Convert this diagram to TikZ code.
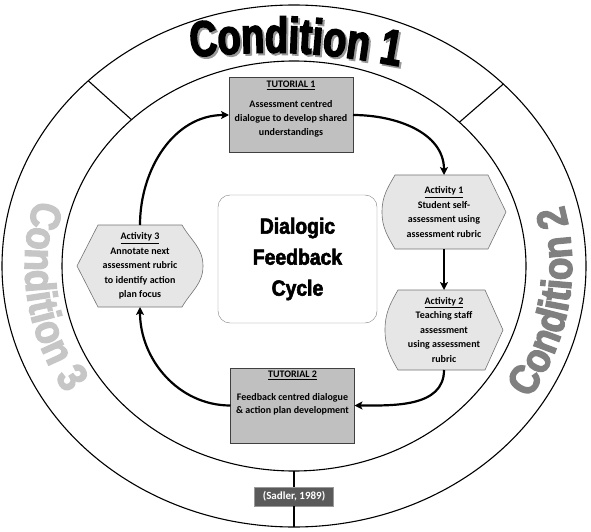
\documentclass[tikz,border=0pt]{standalone}
\usepackage{fontspec}
\setmainfont{Carlito}
\newfontfamily\condAfont{Liberation Sans}[FakeStretch=0.76, BoldFeatures={FakeBold=3}]
\newfontfamily\condBfont{Liberation Sans}[FakeStretch=0.88, BoldFeatures={FakeBold=3}]
\newfontfamily\dialfont{Liberation Sans}[FakeStretch=0.88, BoldFeatures={FakeBold=2.5}]
\usepackage{tikz}
\usetikzlibrary{shapes,arrows.meta}
\usetikzlibrary{positioning}
\usetikzlibrary{calc}
\usetikzlibrary{backgrounds,decorations.text}
\definecolor{tutgrey}{HTML}{C0C0C0}
\definecolor{actgrey}{HTML}{E6E6E6}
\definecolor{sadgrey}{HTML}{5A5A5A}
\definecolor{condtwo}{HTML}{808080}
\definecolor{condthree}{HTML}{C6C6C6}

\begin{document}
\begin{tikzpicture}[x=1pt,y=1pt]
 \useasboundingbox (0,0) rectangle (591,531);
 \tikzstyle{ring} = [ellipse, draw, line width=1.1pt, inner sep=0pt, outer sep=0pt];
 \tikzstyle{txt} = [font=\bfseries\fontsize{10}{14}\selectfont, align=center, inner sep=0pt, outer sep=0pt];
 \tikzstyle{tut} = [txt, draw=black!75, fill=tutgrey, minimum width=124pt, minimum height=75pt];
 \tikzstyle{act} = [txt, font=\bfseries\fontsize{10}{14.5}\selectfont];
 \tikzstyle{actline} = [draw=black!55, fill=actgrey, line width=0.6pt];

 \coordinate (origin) at (294,265);
 \node (outer) [ring, minimum width=584pt, minimum height=522pt] at (origin) {};
 \node (mid) [ring, minimum width=464pt, minimum height=410pt] at (origin) {};

 \node (dialogic) [draw=black!50, rounded corners=12pt, minimum width=159pt, minimum height=128pt, align=center, font=\dialfont\bfseries\fontsize{22}{31}\selectfont] at (297.5,272) {Dialogic\\Feedback\\Cycle};
 \node (tut1) [tut] at (291,416) {\underline{TUTORIAL 1}\\[6pt]Assessment centred\\dialogue to develop shared\\understandings\\[-1pt]\mbox{}};
 \node (tut2) [tut] at (292.5,125.5) {\underline{TUTORIAL 2}\\[9pt]Feedback centred dialogue\\[-1pt]\& action plan development\\[12pt]\mbox{}};
 \node (a1) [act, minimum width=124pt, minimum height=74pt] at (444,319) {\underline{Activity 1}\\Student self-\\assessment using\\assessment rubric};
 \node (a2) [act, minimum width=118pt, minimum height=80pt, below=41pt of a1] {\underline{Activity 2}\\Teaching staff\\assessment\\using assessment\\rubric};
 \node (a3) [act, minimum width=126pt, minimum height=82pt] at (140,265) {\underline{Activity 3}\\Annotate next\\assessment rubric\\to identify action\\plan focus};
 \node (sadler) [fill=sadgrey, draw=black!40, text=white, font=\bfseries\fontsize{11}{12}\selectfont, minimum width=79pt, minimum height=19pt, inner sep=0pt] at (294,34.5) {(Sadler, 1989)};

 \begin{scope}[on background layer]
  \foreach \n/\l/\r in {a1/13/18, a2/13/18}
   \draw[actline] (\n.west) to[out=90,in=240] ($(\n.north west)+(\l,0)$) -- ($(\n.north east)+(-\r,0)$) -- (\n.east) -- ($(\n.south east)+(-\r,0)$) -- ($(\n.south west)+(\l,0)$) to[out=120,in=-90] (\n.west) -- cycle;
  \draw[actline] (a3.west) -- ($(a3.north west)+(21,0)$) -- ($(a3.north east)+(-21,0)$) to[out=-60,in=90] (a3.east) to[out=-90,in=60] ($(a3.south east)+(-21,0)$) -- ($(a3.south west)+(21,0)$) -- cycle;
 \end{scope}

 \draw [line width=1.1pt] (outer.138.5) -- (mid.138.5) (outer.41.5) -- (mid.41.5);
 \draw [line width=1.1pt] (mid.south) -- (sadler) -- (outer.south);

 \tikzstyle{A} = [line width=2.2pt, -{Stealth[length=8pt,width=8pt,inset=2pt]}]

 \draw [A] (tut1.east) to[out=0,in=90] (a1.north);
 \draw [A] (a1) -- (a2);
 \draw [A] (a2.south) to[out=-90,in=0] (tut2.east);
 \draw [A] (tut2.west) to[out=180,in=-90] (a3.south);
 \draw [A] (a3.north) to[out=90,in=180] (tut1.west);

 \path [decorate, decoration={text along path, text align=center, text={|\condAfont\bfseries\fontsize{50}{50}\selectfont\color{black!40}|Condition 1}}] (194,472) to[bend left=8] (400,463);
 \path [decorate, decoration={text along path, text align=center, text={|\condAfont\bfseries\fontsize{50}{50}\selectfont\color{black}|Condition 1}}] (192,474) to[bend left=8] (398,465);
 \path [decorate, decoration={text along path, text align=center, text={|\condBfont\bfseries\fontsize{42}{42}\selectfont\color{condtwo}|Condition 2}}] (origin) ++(-34:278 and 249) arc[start angle=-34, end angle=16, x radius=278, y radius=249];
 \path [decorate, decoration={text along path, text align=center, text={|\condBfont\bfseries\fontsize{42}{42}\selectfont\color{condthree}|Condition 3}}] (origin) ++(162:269 and 241) arc[start angle=162, end angle=214, x radius=269, y radius=241];
\end{tikzpicture}
\end{document}
